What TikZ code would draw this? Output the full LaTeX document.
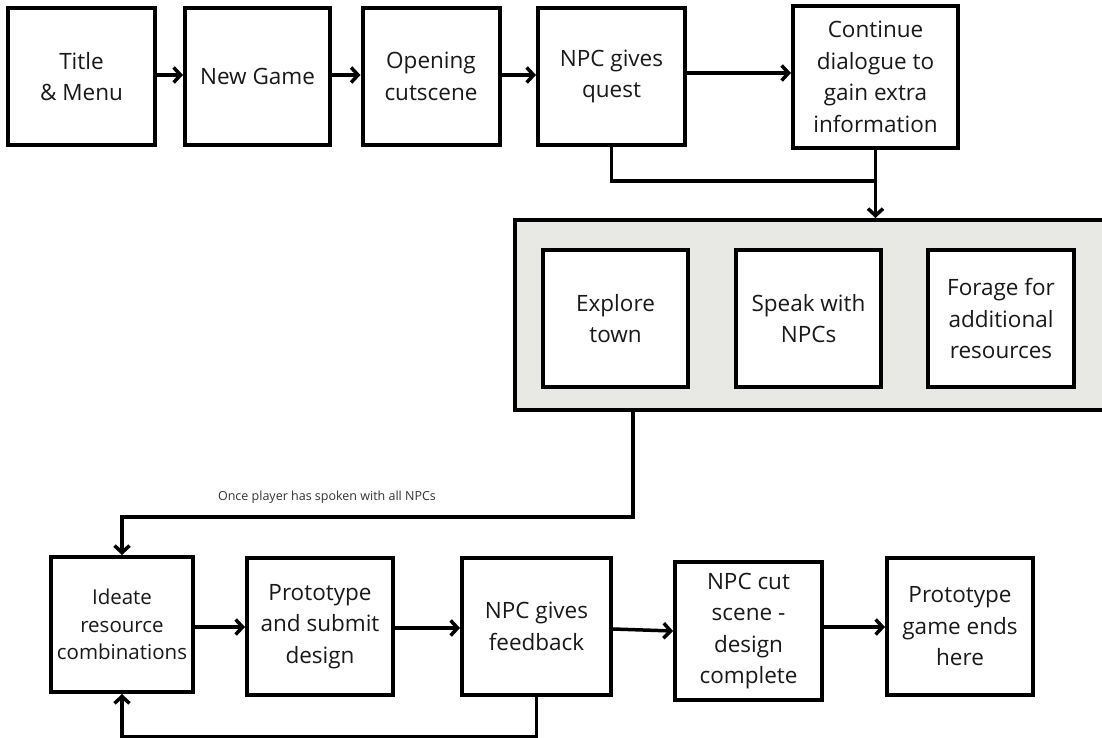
\documentclass[tikz,border=0pt]{standalone}
\usepackage{fontspec}
\setmainfont{Open Sans}
\usetikzlibrary{arrows.meta,positioning,calc}
\definecolor{grpfill}{RGB}{232,232,228}
\tikzset{
  stepbox/.style={draw=black, line width=4pt, fill=white, align=center,
    inner sep=0pt, font=\fontsize{22.5}{31.5}\selectfont, text=black!90},
  grpbox/.style={draw=black, line width=4pt, fill=grpfill, inner sep=0pt},
  conn/.style={draw=black, line width=3.5pt},
  arr/.style={conn, -{Straight Barb[length=7pt,width=15pt,line width=3.5pt]}},
  lbl/.style={font=\fontsize{12.5}{15}\selectfont, text=black!80}
}
\begin{document}
\begin{tikzpicture}[x=1pt,y=-1pt]
\useasboundingbox (0,0) rectangle (1102,738);
% top row
\node[stepbox, minimum width=147pt, minimum height=137pt] (title) at (81.5,76.5) {Title\\\& Menu};
\node[stepbox, minimum width=145pt, minimum height=137pt] (newgame) at (257.5,76.5) {New Game};
\node[stepbox, minimum width=137pt, minimum height=137pt] (opening) at (431,76.5) {Opening\\cutscene};
\node[stepbox, minimum width=147pt, minimum height=137pt] (quest) at (611.5,76.5) {NPC gives\\quest};
\node[stepbox, minimum width=165pt, minimum height=142pt] (cont) at (875.5,77) {Continue\\dialogue to\\gain extra\\information};
% group
\node[grpbox, minimum width=600pt, minimum height=190pt] (grp) at (815,315) {};
\node[stepbox, minimum width=145pt, minimum height=137pt] (explore) at (615.5,318.5) {Explore\\town};
\node[stepbox, minimum width=145pt, minimum height=137pt] (speak) at (808.5,318.5) {Speak with\\NPCs};
\node[stepbox, minimum width=146pt, minimum height=137pt] (forage) at (1001,318.5) {Forage for\\additional\\resources};
% bottom row
\node[stepbox, minimum width=142pt, minimum height=135pt, font=\fontsize{20.5}{27.5}\selectfont] (ideate) at (122,624.5) {Ideate\\resource\\combinations};
\node[stepbox, minimum width=146pt, minimum height=137pt] (proto) at (320,626.5) {Prototype\\and submit\\design};
\node[stepbox, minimum width=149pt, minimum height=137pt] (feedback) at (536.5,626.5) {NPC gives\\feedback};
\node[stepbox, minimum width=147pt, minimum height=138pt] (cut) at (748.5,631) {NPC cut\\scene -\\design\\complete};
\node[stepbox, minimum width=146pt, minimum height=137pt] (ends) at (960,626.5) {Prototype\\game ends\\here};
% connectors
\draw[arr] (title.east |- 0,75) -- (newgame.west |- 0,75);
\draw[arr] (newgame.east |- 0,75) -- (opening.west |- 0,75);
\draw[arr] (opening.east |- 0,75) -- (quest.west |- 0,75);
\draw[arr] (quest.east |- 0,73) -- (cont.west |- 0,73);
\coordinate (join) at (cont.south |- 0,181);
\draw[conn] (quest.south) |- (join);
\draw[arr] (cont.south) -- (grp.north -| cont.south);
\coordinate (gout) at ([xshift=120pt]grp.south west);
\draw[arr] (gout) -- ++(0,105) coordinate (bend) -| (ideate.north);
\node[lbl] (onceLbl) at (327,497) {Once player has spoken with all NPCs};
\draw[arr] (ideate.east |- 0,627) -- (proto.west |- 0,627);
\draw[arr] (proto.east |- 0,628) -- (feedback.west |- 0,628);
\draw[arr] (feedback.east |- 0,629) -- (cut.west |- 0,631);
\draw[arr] (cut.east |- 0,627) -- (ends.west |- 0,627);
\draw[arr] (feedback.south) -- ++(0,40) -| (ideate.south);
\end{tikzpicture}
\end{document}
